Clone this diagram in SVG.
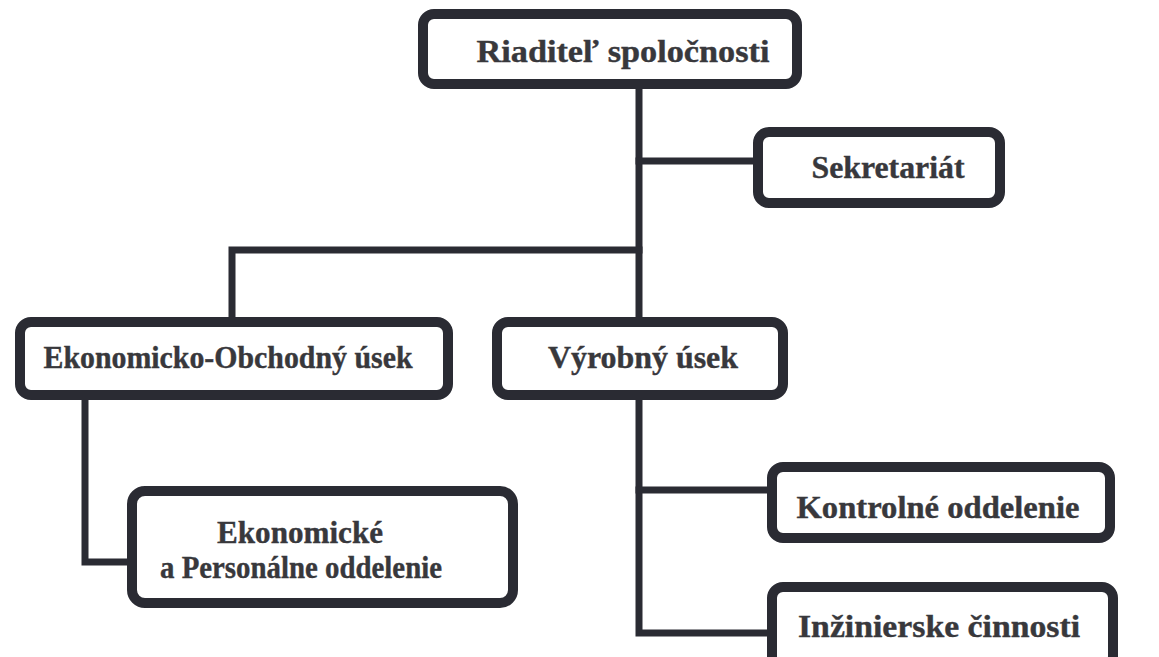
<svg xmlns="http://www.w3.org/2000/svg" width="1159" height="657" viewBox="0 0 1159 657">
<style>
.box{fill:#fff;stroke:#2a2b33;stroke-width:10}
.lbl{font-family:"Liberation Serif","Times New Roman",serif;font-weight:bold;font-size:32px;fill:#38383c;stroke:#38383c;stroke-width:0.4;text-anchor:middle}
.conn{fill:none;stroke:#2a2b33;stroke-width:7;stroke-linejoin:miter;stroke-linecap:square}
</style>
<rect width="1159" height="657" fill="#fff"/>
<g id="connectors">
<path class="conn" d="M639 89 V317"/>
<path class="conn" d="M639 161 H753"/>
<path class="conn" d="M639 250 H232 V317"/>
<path class="conn" d="M85 400 V562 H127"/>
<path class="conn" d="M639 400 V633 H767"/>
<path class="conn" d="M639 490 H767"/>
</g>
<g id="riaditel">
<rect class="box" x="423" y="14" width="374" height="70" rx="11"/>
<text class="lbl" x="623" y="62" textLength="293" lengthAdjust="spacingAndGlyphs">Riaditeľ spoločnosti</text>
</g>
<g id="sekretariat">
<rect class="box" x="758" y="132" width="242" height="71" rx="11"/>
<text class="lbl" x="888" y="178" textLength="153" lengthAdjust="spacingAndGlyphs">Sekretariát</text>
</g>
<g id="ekonomicko-obchodny">
<rect class="box" x="20" y="322" width="428" height="73" rx="11"/>
<text class="lbl" x="228" y="368" textLength="369" lengthAdjust="spacingAndGlyphs">Ekonomicko-Obchodný úsek</text>
</g>
<g id="vyrobny">
<rect class="box" x="497" y="322" width="286" height="73" rx="11"/>
<text class="lbl" x="643" y="368" textLength="190" lengthAdjust="spacingAndGlyphs">Výrobný úsek</text>
</g>
<g id="ekonomicke-personalne">
<rect class="box" x="132" y="491" width="381" height="112" rx="13"/>
<text class="lbl" x="300" y="543" textLength="166" lengthAdjust="spacingAndGlyphs">Ekonomické</text>
<text class="lbl" x="301" y="578" textLength="282" lengthAdjust="spacingAndGlyphs">a Personálne oddelenie</text>
</g>
<g id="kontrolne">
<rect class="box" x="772" y="467" width="338" height="71" rx="11"/>
<text class="lbl" x="938" y="518" textLength="283" lengthAdjust="spacingAndGlyphs">Kontrolné oddelenie</text>
</g>
<g id="inzinierske">
<rect class="box" x="772" y="587" width="341" height="80" rx="11"/>
<text class="lbl" x="939" y="637" textLength="282" lengthAdjust="spacingAndGlyphs">Inžinierske činnosti</text>
</g>
</svg>
